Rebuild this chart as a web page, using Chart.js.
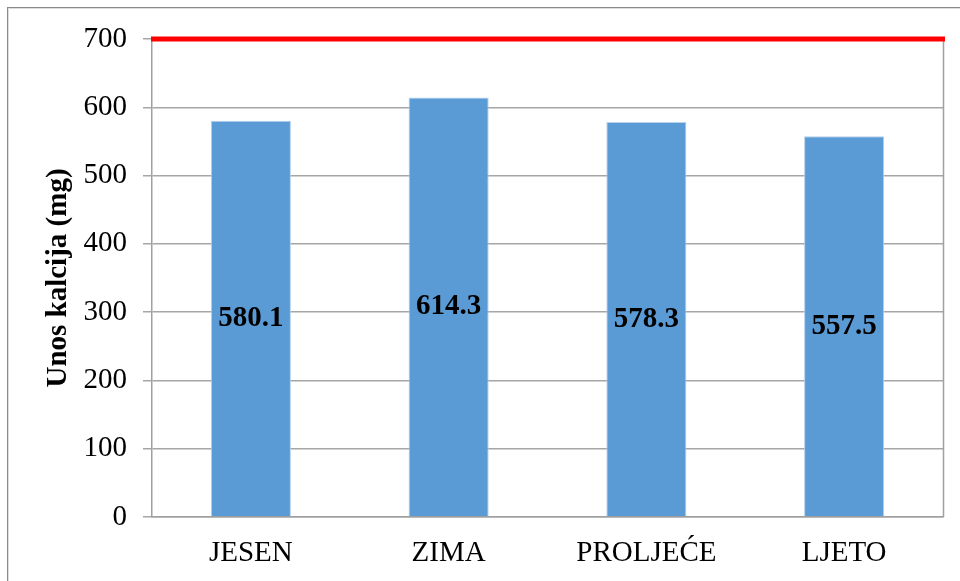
<!DOCTYPE html>
<html>
<head>
<meta charset="utf-8">
<script src="https://cdn.jsdelivr.net/npm/chart.js@4"></script>
<style>
  html, body { margin: 0; padding: 0; background: #fff; }
  #wrap { width: 960px; height: 581px; }
</style>
</head>
<body>
<div id="wrap"><canvas id="chart" width="960" height="581"></canvas></div>
<script>
const seasons = ["JESEN", "ZIMA", "PROLJEĆE", "LJETO"];
const calciumIntake = [580.1, 614.3, 578.3, 557.5];
const recommendedLimit = 700;
const yMin = 0;
const yMax = 700;
const yStep = 100;

const serif = "'Liberation Serif', 'Times New Roman', serif";

// outer frame of the chart object
const framePlugin = {
  id: "frame",
  beforeDraw(chart) {
    const ctx = chart.ctx;
    ctx.save();
    ctx.lineWidth = 1;
    ctx.strokeStyle = "#8a8a8a";
    ctx.strokeRect(7.5, 7.5, 1000, 700);
    ctx.strokeStyle = "#dedede";
    ctx.strokeRect(8.5, 8.5, 1000, 700);
    ctx.restore();
  },
};

// right edge of the plot area + red limit line at 700
const limitPlugin = {
  id: "limit",
  afterDatasetsDraw(chart) {
    const { ctx, chartArea } = chart;
    const y = chart.scales.y.getPixelForValue(recommendedLimit);
    ctx.save();
    ctx.strokeStyle = "#a0a0a0";
    ctx.lineWidth = 1.5;
    ctx.beginPath();
    ctx.moveTo(chartArea.right + 0.5, chartArea.top);
    ctx.lineTo(chartArea.right + 0.5, chartArea.bottom);
    ctx.stroke();
    ctx.strokeStyle = "#ff0000";
    ctx.lineWidth = 5;
    ctx.beginPath();
    ctx.moveTo(chartArea.left - 1, y);
    ctx.lineTo(chartArea.right + 2, y);
    ctx.stroke();
    ctx.restore();
  },
};

// value labels in the middle of each bar
const barLabels = {
  id: "barLabels",
  afterDatasetsDraw(chart) {
    const ctx = chart.ctx;
    const meta = chart.getDatasetMeta(0);
    ctx.save();
    ctx.font = "bold 29px " + serif;
    ctx.fillStyle = "#000";
    ctx.textAlign = "center";
    ctx.textBaseline = "middle";
    meta.data.forEach((bar, i) => {
      const v = chart.data.datasets[0].data[i];
      ctx.fillText(v.toFixed(1), bar.x, (bar.y + bar.base) / 2);
    });
    ctx.restore();
  },
};

new Chart(document.getElementById("chart"), {
  type: "bar",
  data: {
    labels: seasons,
    datasets: [
      {
        label: "Unos kalcija",
        data: calciumIntake,
        backgroundColor: "#5b9bd5",
        borderColor: "#b4d0ec",
        borderWidth: 1,
        borderSkipped: "bottom",
        categoryPercentage: 1,
        barPercentage: 0.405,
      },
    ],
  },
  options: {
    responsive: false,
    animation: false,
    layout: { padding: { left: 0, right: 17, top: 39, bottom: 0 } },
    plugins: {
      legend: { display: false },
      tooltip: { enabled: false },
    },
    scales: {
      x: {
        grid: { display: false, drawTicks: false },
        border: { display: true, color: "#a0a0a0", width: 1.5 },
        ticks: {
          color: "#000",
          padding: 19,
          maxRotation: 0,
          font: { family: serif, size: 29 },
        },
        afterFit(scale) {
          scale.height = 64;
        },
      },
      y: {
        min: yMin,
        max: yMax,
        grid: { color: "#a6a6a6", lineWidth: 1.5, tickLength: 9 },
        border: { display: true, color: "#a0a0a0", width: 1.5 },
        ticks: {
          stepSize: yStep,
          color: "#000",
          padding: 16,
          font: { family: serif, size: 29 },
        },
        title: {
          display: true,
          text: "Unos kalcija (mg)",
          color: "#000",
          padding: { top: 41, bottom: 0 },
          font: { family: serif, size: 29, weight: "bold" },
        },
        afterFit(scale) {
          scale.width = 152;
        },
      },
    },
  },
  plugins: [framePlugin, limitPlugin, barLabels],
});
</script>
</body>
</html>
